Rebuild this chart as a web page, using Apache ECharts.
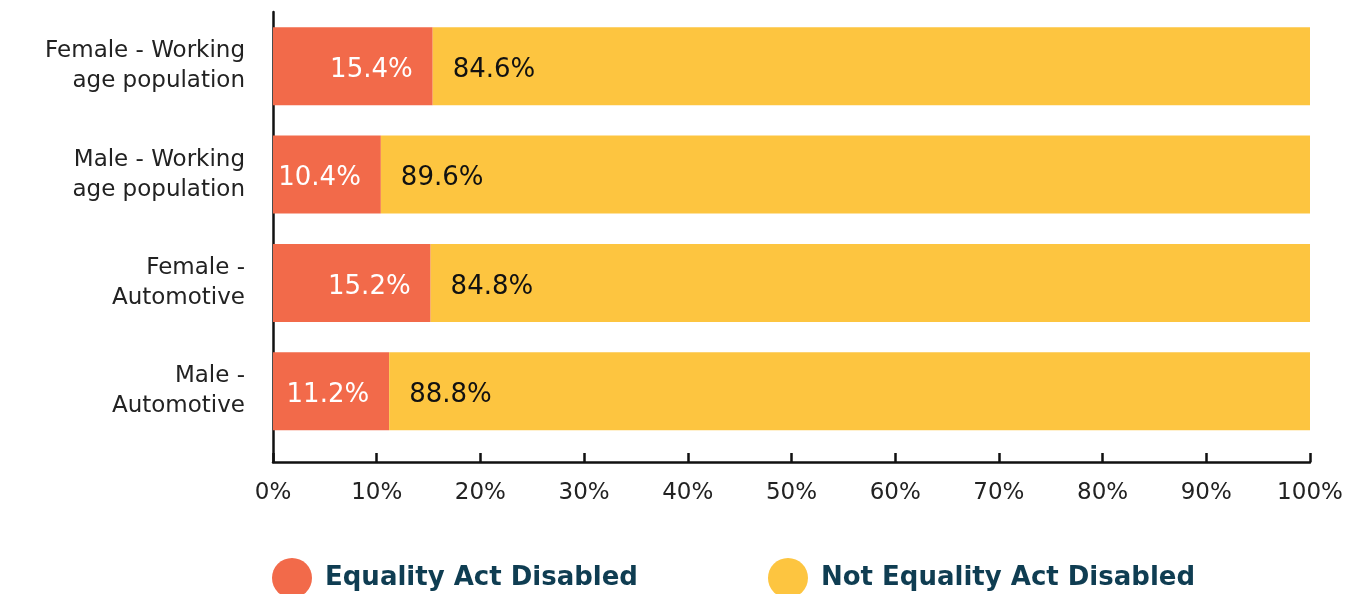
<!DOCTYPE html>
<html>
<head>
<meta charset="utf-8">
<script src="https://cdn.jsdelivr.net/npm/echarts@6/dist/echarts.min.js"></script>
<style>
  html, body { margin: 0; padding: 0; background: #fff; }
  #chart { width: 1348px; height: 594px; }
</style>
</head>
<body>
<div id="chart"></div>
<script>
const categories = [
  'Female - Working\nage population',
  'Male - Working\nage population',
  'Female -\nAutomotive',
  'Male -\nAutomotive'
];
const disabled = [15.4, 10.4, 15.2, 11.2];
const notDisabled = [84.6, 89.6, 84.8, 88.8];
const xTicks = [0, 10, 20, 30, 40, 50, 60, 70, 80, 90, 100];

const font = '"DejaVu Sans", sans-serif';
const colors = ['#f26a4a', '#fdc540'];

const chart = echarts.init(document.getElementById('chart'));

const option = {
  animation: false,
  color: colors,
  grid: [
    // bars
    { left: 273, right: 38, top: 12, height: 433.5 },
    // axes frame (x axis with labels and the full-height y line)
    { left: 273, right: 38, top: 12, height: 450 }
  ],
  legend: {
    left: 272,
    top: 558,
    padding: 0,
    icon: 'circle',
    itemWidth: 40,
    itemHeight: 40,
    itemGap: 130,
    textStyle: { fontFamily: font, fontSize: 26, fontWeight: 'bold', color: '#0f3d52', padding: [2, 0, 0, 8] },
    data: ['Equality Act Disabled', 'Not Equality Act Disabled']
  },
  xAxis: [
    { gridIndex: 0, type: 'value', min: 0, max: 100, show: false },
    {
      gridIndex: 1, type: 'value', min: 0, max: 100, interval: 10,
      axisLine: { show: true, lineStyle: { color: '#111', width: 2.5 } },
      axisTick: { show: true, inside: true, length: 9, lineStyle: { color: '#111', width: 2.5 } },
      splitLine: { show: false },
      axisLabel: {
        margin: 20, fontFamily: font, fontSize: 23, color: '#222',
        formatter: v => xTicks.includes(v) ? v + '%' : ''
      }
    }
  ],
  yAxis: [
    {
      gridIndex: 0, type: 'category', data: categories, inverse: true,
      axisLine: { show: false }, axisTick: { show: false },
      axisLabel: {
        margin: 28, fontFamily: font, fontSize: 23, lineHeight: 30, color: '#222', align: 'right',
        padding: [7, 0, 0, 0]
      }
    },
    {
      gridIndex: 1, type: 'value', min: 0, max: 1,
      axisLine: { show: true, lineStyle: { color: '#111', width: 2.5 } },
      axisTick: { show: false }, axisLabel: { show: false }, splitLine: { show: false }
    }
  ],
  series: [
    {
      name: 'Equality Act Disabled', type: 'bar', stack: 'total',
      xAxisIndex: 0, yAxisIndex: 0, barWidth: 78,
      data: disabled,
      label: {
        show: true, position: 'insideRight', distance: 20, offset: [0, 4],
        fontFamily: font, fontSize: 26, color: '#fff',
        formatter: p => p.value.toFixed(1) + '%'
      }
    },
    {
      name: 'Not Equality Act Disabled', type: 'bar', stack: 'total',
      xAxisIndex: 0, yAxisIndex: 0, barWidth: 78,
      data: notDisabled,
      label: {
        show: true, position: 'insideLeft', distance: 20, offset: [0, 4],
        fontFamily: font, fontSize: 26, color: '#111',
        formatter: p => p.value.toFixed(1) + '%'
      }
    }
  ]
};

chart.setOption(option);
</script>
</body>
</html>
